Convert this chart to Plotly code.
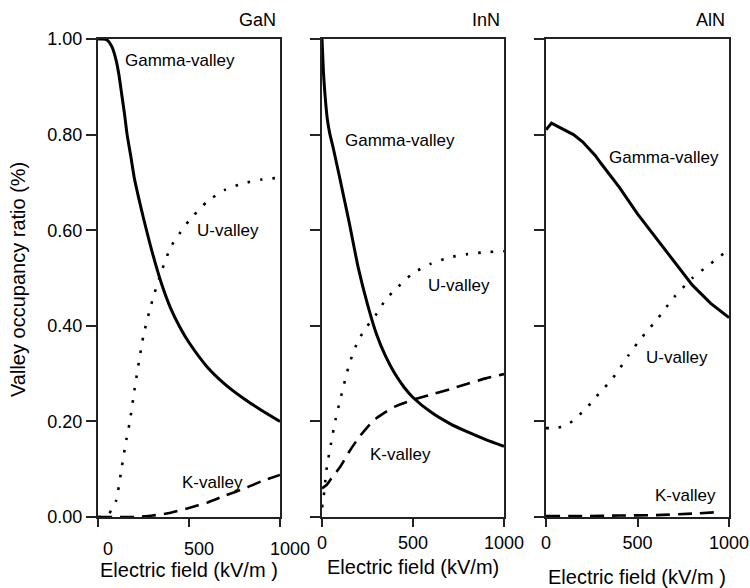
import plotly.graph_objects as go

# ---------------- data ----------------
gan_gamma_x = [0, 25, 50, 75, 100, 115, 130, 145, 160, 180, 200, 225, 250, 300, 350, 400, 450, 500, 600, 700, 800, 900, 1000]
gan_gamma_y = [1.0, 1.0, 0.998, 0.985, 0.955, 0.925, 0.885, 0.845, 0.80, 0.755, 0.708, 0.665, 0.625, 0.551, 0.487, 0.436, 0.397, 0.365, 0.314, 0.277, 0.248, 0.223, 0.20]
gan_u_x = [0, 50, 75, 100, 125, 150, 175, 200, 250, 300, 350, 400, 450, 500, 600, 700, 800, 900, 1000]
gan_u_y = [0.0, 0.003, 0.015, 0.035, 0.09, 0.15, 0.2, 0.265, 0.38, 0.455, 0.515, 0.565, 0.594, 0.62, 0.66, 0.685, 0.698, 0.706, 0.71]
gan_k_x = [0, 100, 200, 300, 400, 500, 600, 700, 800, 900, 1000]
gan_k_y = [0.0, 0.0, 0.0, 0.003, 0.009, 0.019, 0.03, 0.045, 0.059, 0.075, 0.088]

inn_gamma_x = [0, 8, 16, 30, 44, 60, 80, 100, 125, 150, 200, 250, 300, 350, 400, 450, 500, 600, 700, 800, 900, 1000]
inn_gamma_y = [1.0, 0.93, 0.886, 0.83, 0.80, 0.775, 0.74, 0.705, 0.66, 0.615, 0.52, 0.445, 0.382, 0.336, 0.300, 0.272, 0.25, 0.219, 0.196, 0.178, 0.162, 0.148]
inn_u_x = [0, 10, 25, 50, 75, 100, 150, 200, 250, 300, 350, 400, 500, 600, 700, 800, 900, 1000]
inn_u_y = [0.02, 0.045, 0.1, 0.155, 0.205, 0.245, 0.32, 0.37, 0.40, 0.425, 0.455, 0.475, 0.51, 0.53, 0.543, 0.55, 0.554, 0.556]
inn_k_x = [0, 25, 50, 100, 150, 200, 250, 300, 400, 500, 600, 700, 800, 900, 1000]
inn_k_y = [0.06, 0.067, 0.08, 0.105, 0.137, 0.165, 0.188, 0.207, 0.231, 0.245, 0.256, 0.267, 0.279, 0.29, 0.299]

aln_gamma_x = [0, 30, 100, 150, 200, 270, 300, 400, 500, 600, 700, 800, 900, 1000]
aln_gamma_y = [0.81, 0.824, 0.81, 0.80, 0.785, 0.756, 0.74, 0.69, 0.634, 0.585, 0.535, 0.485, 0.447, 0.417]
aln_u_x = [0, 50, 100, 150, 200, 250, 300, 350, 400, 450, 500, 550, 600, 650, 700, 800, 900, 1000]
aln_u_y = [0.186, 0.186, 0.19, 0.202, 0.22, 0.24, 0.263, 0.283, 0.309, 0.338, 0.364, 0.388, 0.41, 0.435, 0.46, 0.50, 0.53, 0.56]
aln_k_x = [0, 200, 400, 600, 800, 930]
aln_k_y = [0.002, 0.002, 0.003, 0.004, 0.007, 0.01]

panel_titles = ["GaN", "InN", "AlN"]
x_title_texts = ["Electric field (kV/m )", "Electric field (kV/m)", "Electric field (kV/m )"]
y_title_text = "Valley occupancy ratio (%)"
x_ticks = [0, 500, 1000]
y_ticks = [0.0, 0.2, 0.4, 0.6, 0.8, 1.0]

# label positions (data coords) per panel: gamma, u, k
label_pos = [
    [(137, 0.954), (533, 0.60), (450, 0.073)],
    [(115, 0.787), (571, 0.485), (253, 0.13)],
    [(335, 0.753), (538, 0.333), (582, 0.044)],
]
label_texts = ["Gamma-valley", "U-valley", "K-valley"]

FONT = "Liberation Sans, Arial, sans-serif"
W, H = 750, 588
left_px = [98, 322, 546]
right_px = [280, 504, 729]
top_px, bot_px = 39, 517

fig = go.Figure()

panels = [
    (gan_gamma_x, gan_gamma_y, gan_u_x, gan_u_y, gan_k_x, gan_k_y),
    (inn_gamma_x, inn_gamma_y, inn_u_x, inn_u_y, inn_k_x, inn_k_y),
    (aln_gamma_x, aln_gamma_y, aln_u_x, aln_u_y, aln_k_x, aln_k_y),
]
gamma_shapes = ["spline", "spline", "linear"]

for i, (gx, gy, ux, uy, kx, ky) in enumerate(panels):
    xa = "x" if i == 0 else f"x{i+1}"
    ya = "y" if i == 0 else f"y{i+1}"
    gline = dict(color="black", width=3, shape=gamma_shapes[i])
    if gamma_shapes[i] == "spline":
        gline["smoothing"] = 0.6
    fig.add_trace(go.Scatter(x=gx, y=gy, mode="lines", xaxis=xa, yaxis=ya,
                             line=gline, showlegend=False, hoverinfo="skip"))
    fig.add_trace(go.Scatter(x=ux, y=uy, mode="lines", xaxis=xa, yaxis=ya,
                             line=dict(color="black", width=2.6, dash="2.6px,10px", shape="spline", smoothing=0.6),
                             showlegend=False, hoverinfo="skip"))
    fig.add_trace(go.Scatter(x=kx, y=ky, mode="lines", xaxis=xa, yaxis=ya,
                             line=dict(color="black", width=2.6, dash="14px,8px", shape="spline", smoothing=0.6),
                             showlegend=False, hoverinfo="skip"))

layout = dict(
    width=W, height=H,
    margin=dict(l=0, r=0, t=0, b=0, pad=0),
    paper_bgcolor="white", plot_bgcolor="white",
    font=dict(family=FONT, color="black", size=17),
    showlegend=False,
)

ydom = [(H - bot_px) / H, (H - top_px) / H]
for i in range(3):
    xk = "xaxis" if i == 0 else f"xaxis{i+1}"
    yk = "yaxis" if i == 0 else f"yaxis{i+1}"
    xdom = [left_px[i] / W, right_px[i] / W]
    xax = dict(domain=xdom, range=[0, 1000], tickvals=x_ticks, ticktext=[str(v) for v in x_ticks],
               ticks="outside", ticklen=8, tickwidth=2, tickcolor="#222",
               showline=True, linecolor="#222", linewidth=2, mirror=True,
               showgrid=False, zeroline=False, anchor="y" if i == 0 else f"y{i+1}",
               automargin=False,
               tickfont=dict(size=18, family=FONT, color="black"))
    if i == 0:
        xax["ticklabelshift"] = 10
        xax["ticklabelstandoff"] = 6
    layout[xk] = xax
    yax = dict(domain=ydom, range=[0, 1], tickvals=y_ticks,
               ticks="outside", ticklen=10, tickwidth=2, tickcolor="#222",
               showline=True, linecolor="#222", linewidth=2, mirror=True,
               showgrid=False, zeroline=False, anchor="x" if i == 0 else f"x{i+1}",
               automargin=False,
               tickfont=dict(size=18, family=FONT, color="black"),
               showticklabels=(i == 0), tickformat=".2f")
    layout[yk] = yax

fig.update_layout(**layout)

annotations = []
# panel titles
for i, t in enumerate(panel_titles):
    annotations.append(dict(text=t, xref="paper", yref="paper", x=(right_px[i] - 2) / W, y=(H - 20) / H,
                            xanchor="right", yanchor="middle", showarrow=False,
                            font=dict(size=18, family=FONT, color="black")))
# x titles
x_title_cx = [189, 413, 637]
x_title_cy = [570, 567, 577]
for i, t in enumerate(x_title_texts):
    annotations.append(dict(text=t, xref="paper", yref="paper", x=x_title_cx[i] / W, y=(H - x_title_cy[i]) / H,
                            xanchor="center", yanchor="middle", showarrow=False,
                            font=dict(size=20, family=FONT, color="black")))
# y title
annotations.append(dict(text=y_title_text, xref="paper", yref="paper", x=18 / W, y=(H - 280) / H,
                        xanchor="center", yanchor="middle", textangle=-90, showarrow=False,
                        font=dict(size=20, family=FONT, color="black")))
# curve labels
for i in range(3):
    xr = "x" if i == 0 else f"x{i+1}"
    yr = "y" if i == 0 else f"y{i+1}"
    for j, t in enumerate(label_texts):
        lx, ly = label_pos[i][j]
        annotations.append(dict(text=t, xref=xr, yref=yr, x=lx, y=ly, xanchor="left", yanchor="middle",
                                showarrow=False, font=dict(size=17, family=FONT, color="black")))

fig.update_layout(annotations=annotations)
fig.write_html("out.html")
